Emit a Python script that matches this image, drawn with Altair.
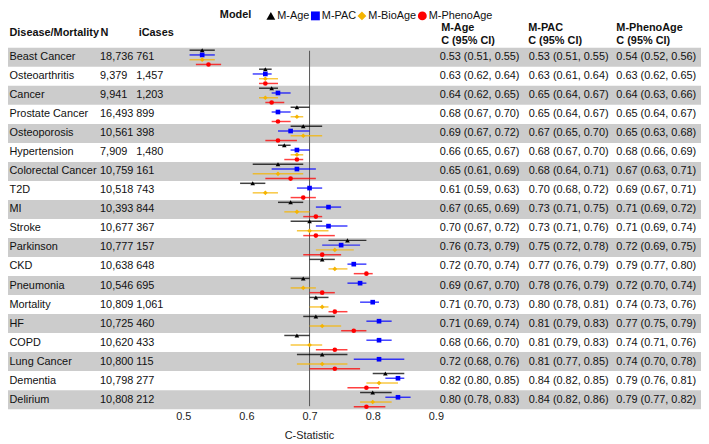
import altair as alt
import pandas as pd

# ---------------- data ----------------
diseases = ["Beast Cancer", "Osteoarthritis", "Cancer", "Prostate Cancer", "Osteoporosis",
            "Hypertension", "Colorectal Cancer", "T2D", "MI", "Stroke", "Parkinson", "CKD",
            "Pneumonia", "Mortality", "HF", "COPD", "Lung Cancer", "Dementia", "Delirium"]
n_values = ["18,736", "9,379", "9,941", "16,493", "10,561", "7,909", "10,759", "10,518", "10,393",
            "10,677", "10,777", "10,638", "10,546", "10,809", "10,725", "10,620", "10,800", "10,798", "10,808"]
icases = ["761", "1,457", "1,203", "899", "398", "1,480", "161", "743", "844", "367", "157", "648",
          "695", "1,061", "460", "433", "115", "277", "212"]
models = ["M-Age", "M-PAC", "M-BioAge", "M-PhenoAge"]

age_est = [0.53, 0.63, 0.64, 0.68, 0.69, 0.66, 0.65, 0.61, 0.67, 0.70, 0.76, 0.72, 0.69, 0.71, 0.71, 0.68, 0.72, 0.82, 0.80]
age_lo  = [0.51, 0.62, 0.62, 0.67, 0.67, 0.65, 0.61, 0.59, 0.65, 0.67, 0.73, 0.70, 0.67, 0.70, 0.69, 0.66, 0.68, 0.80, 0.78]
age_hi  = [0.55, 0.64, 0.65, 0.70, 0.72, 0.67, 0.69, 0.63, 0.69, 0.72, 0.79, 0.74, 0.70, 0.73, 0.74, 0.70, 0.76, 0.85, 0.83]

pac_est = [0.53, 0.63, 0.65, 0.65, 0.67, 0.68, 0.68, 0.70, 0.73, 0.73, 0.75, 0.77, 0.78, 0.80, 0.81, 0.81, 0.81, 0.84, 0.84]
pac_lo  = [0.51, 0.61, 0.64, 0.64, 0.65, 0.67, 0.64, 0.68, 0.71, 0.71, 0.72, 0.76, 0.76, 0.78, 0.79, 0.79, 0.77, 0.82, 0.82]
pac_hi  = [0.55, 0.64, 0.67, 0.67, 0.70, 0.70, 0.71, 0.72, 0.75, 0.76, 0.78, 0.79, 0.79, 0.81, 0.83, 0.83, 0.85, 0.85, 0.86]

bio_est = [0.53, 0.63, 0.63, 0.68, 0.69, 0.68, 0.65, 0.63, 0.68, 0.70, 0.74, 0.74, 0.69, 0.72, 0.72, 0.70, 0.72, 0.81, 0.80]
bio_lo  = [0.51, 0.62, 0.62, 0.67, 0.67, 0.67, 0.61, 0.61, 0.66, 0.68, 0.71, 0.73, 0.67, 0.70, 0.70, 0.67, 0.68, 0.79, 0.78]
bio_hi  = [0.55, 0.65, 0.65, 0.69, 0.72, 0.69, 0.69, 0.65, 0.70, 0.73, 0.77, 0.76, 0.71, 0.73, 0.75, 0.72, 0.76, 0.84, 0.83]

pheno_est = [0.54, 0.63, 0.64, 0.65, 0.65, 0.68, 0.67, 0.69, 0.71, 0.71, 0.72, 0.79, 0.72, 0.74, 0.77, 0.74, 0.74, 0.79, 0.79]
pheno_lo  = [0.52, 0.62, 0.63, 0.64, 0.63, 0.66, 0.63, 0.67, 0.69, 0.69, 0.69, 0.77, 0.70, 0.73, 0.75, 0.71, 0.70, 0.76, 0.77]
pheno_hi  = [0.56, 0.65, 0.66, 0.67, 0.68, 0.69, 0.71, 0.71, 0.72, 0.74, 0.75, 0.80, 0.74, 0.76, 0.79, 0.76, 0.78, 0.81, 0.82]

model_colors = ["#000000", "#0000FF", "#F5B400", "#FF0000"]
model_shapes = ["triangle-up", "square", "diamond", "circle"]

# ---------------- tables ----------------
series = {
    "M-Age": (age_est, age_lo, age_hi),
    "M-PAC": (pac_est, pac_lo, pac_hi),
    "M-BioAge": (bio_est, bio_lo, bio_hi),
    "M-PhenoAge": (pheno_est, pheno_lo, pheno_hi),
}
rows = []
for m in models:
    e, l, h = series[m]
    for i, d in enumerate(diseases):
        rows.append({"disease": d, "model": m, "est": e[i], "lo": l[i], "hi": h[i]})
long_df = pd.DataFrame(rows)


def fmt(e, l, h):
    return [f"{a:.2f} ({b:.2f}, {c:.2f})" for a, b, c in zip(e, l, h)]


table_df = pd.DataFrame({
    "disease": diseases,
    "n": n_values,
    "icases": icases,
    "c_age": fmt(age_est, age_lo, age_hi),
    "c_pac": fmt(pac_est, pac_lo, pac_hi),
    "c_pheno": fmt(pheno_est, pheno_lo, pheno_hi),
})
stripe_df = table_df.iloc[::2]

# ---------------- layout ----------------
FONT = "Liberation Sans"
W, H = 700, 365
X0, X1 = 0.5 - 177 / 638, 0.5 + 523 / 638

y_scale = alt.Scale(domain=diseases, paddingInner=0, paddingOuter=0)
x_scale = alt.Scale(domain=[X0, X1], nice=False, zero=False)
off_scale = alt.Scale(domain=models, paddingInner=0, paddingOuter=0)
color_scale = alt.Scale(domain=models, range=model_colors)
x_axis = alt.Axis(values=[0.5, 0.6, 0.7, 0.8, 0.9], format=".1f", grid=False, domain=False,
                  ticks=False, labelPadding=1, labelFont=FONT, labelFontSize=11,
                  labelColor="#222222", title="C-Statistic", titleFont=FONT,
                  titleFontSize=11, titleFontWeight="normal", titleColor="#222222",
                  titleX=304, titlePadding=9)
Y = alt.Y("disease:N", scale=y_scale, axis=None)

bands = alt.Chart(stripe_df).mark_rect(color="#CCCCCC").encode(
    y=Y, x=alt.value(0), x2=alt.value(W))

vline = alt.Chart(pd.DataFrame({"v": [0.7]})).mark_rule(color="#555555", strokeWidth=1).encode(
    x=alt.X("v:Q", scale=x_scale, axis=x_axis), y=alt.value(3), y2=alt.value(H - 3))

ci = alt.Chart(long_df).mark_rule(strokeWidth=1.5, opacity=0.75).encode(
    x=alt.X("lo:Q", scale=x_scale, axis=x_axis),
    x2="hi:Q",
    y=Y,
    yOffset=alt.YOffset("model:N", scale=off_scale, sort=models),
    color=alt.Color("model:N", scale=color_scale, legend=None),
)

legend = alt.Legend(title="Model", orient="none", legendX=214, legendY=-38,
                    direction="horizontal", titleOrient="left", titleFont=FONT,
                    titleFontSize=11, titleFontWeight="bold", titleColor="#111111",
                    titleAnchor="middle", titleBaseline="middle",
                    labelFont=FONT, labelFontSize=11, labelColor="#111111",
                    symbolSize=80, symbolStrokeWidth=0, columnPadding=0, labelOffset=1,
                    titlePadding=14, padding=0, symbolOpacity=1)

pts = alt.Chart(long_df).mark_point(filled=True, opacity=1, size=22).encode(
    x=alt.X("est:Q", scale=x_scale, axis=x_axis),
    y=Y,
    yOffset=alt.YOffset("model:N", scale=off_scale, sort=models),
    color=alt.Color("model:N", scale=color_scale, legend=legend),
    shape=alt.Shape("model:N", scale=alt.Scale(domain=models, range=model_shapes), legend=legend),
)


def col(field, px):
    return alt.Chart(table_df).mark_text(align="left", baseline="middle", font=FONT,
                                         fontSize=11, color="#111111").encode(
        y=Y, x=alt.value(px), text=f"{field}:N")


def header(txt, px, py):
    return alt.Chart(pd.DataFrame({"t": [txt]})).mark_text(
        align="left", baseline="middle", font=FONT, fontSize=11, fontWeight="bold",
        color="#111111").encode(x=alt.value(px), y=alt.value(py), text="t:N")


texts = [col("disease", 1.5), col("n", 93), col("icases", 129.5),
         col("c_age", 436), col("c_pac", 526), col("c_pheno", 614.5)]
headers = [header("Disease/Mortality", 1.5, -15), header("N", 93.5, -15), header("iCases", 132, -15),
           header("M-Age", 437.5, -20), header("M-PAC", 525.5, -20), header("M-PhenoAge", 614.5, -20),
           header("C (95% CI)", 437.5, -7), header("C (95% CI)", 525.5, -7),
           header("C (95% CI)", 614.5, -7)]

chart = alt.layer(bands, vline, ci, pts, *texts, *headers).resolve_legend(
    color="independent", shape="independent"
).properties(
    width=W, height=H,
    autosize=alt.AutoSizeParams(type="none"),
    padding={"left": 0, "right": 0, "top": 38, "bottom": 35},
).configure_view(stroke=None)

chart.save("out.html", embed_options={"renderer": "svg", "actions": False})
